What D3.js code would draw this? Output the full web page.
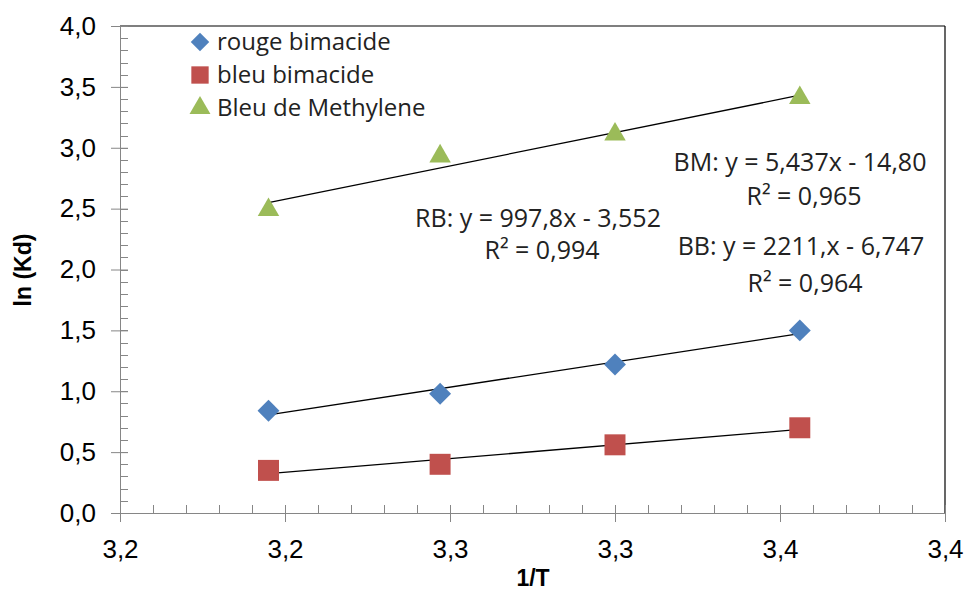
<!DOCTYPE html>
<html>
<head>
<meta charset="utf-8">
<script src="https://cdn.jsdelivr.net/npm/d3@7"></script>
<style>
body { margin: 0; background: #fff; }
svg { display: block; }
</style>
</head>
<body>
<svg id="chart"></svg>
<script>
// 1/T values (x 10^-3)
var invT = [3.195, 3.247, 3.300, 3.356];
var rouge = [0.84, 0.98, 1.22, 1.50];
var bleu = [0.35, 0.40, 0.56, 0.70];
var methylene = [2.49, 2.93, 3.11, 3.41];

var seriesNames = ["rouge bimacide", "bleu bimacide", "Bleu de Methylene"];
var seriesColors = ["#4F81BD", "#C0504D", "#9BBB59"];
var seriesShapes = ["diamond", "square", "triangle"];

var xTicks = [3.15, 3.20, 3.25, 3.30, 3.35, 3.40];
var xTickLabels = ["3,2", "3,2", "3,3", "3,3", "3,4", "3,4"];
var yTicks = [0, 0.5, 1, 1.5, 2, 2.5, 3, 3.5, 4];
var yTickLabels = ["0,0", "0,5", "1,0", "1,5", "2,0", "2,5", "3,0", "3,5", "4,0"];

var equations = [
  ["BM: y = 5,437x - 14,80", "R\u00B2 = 0,965"],
  ["RB: y = 997,8x - 3,552", "R\u00B2 = 0,994"],
  ["BB: y = 2211,x - 6,747", "R\u00B2 = 0,964"]
];

var W = 967, H = 591;
var margin = {left: 120, top: 26, right: 22, bottom: 78};
var width = W - margin.left - margin.right;
var height = H - margin.top - margin.bottom;

var svg = d3.select("#chart").attr("width", W).attr("height", H);
var g = svg.append("g").attr("transform", "translate(" + margin.left + "," + margin.top + ")");

var x = d3.scaleLinear().domain([3.15, 3.40]).range([0, width]);
var y = d3.scaleLinear().domain([0, 4]).range([height, 0]);

var grey = "#868686";
var calibri = "'Open Sans', sans-serif";
var arial = "'Liberation Sans', Arial, sans-serif";

// border top/right
g.append("line").attr("x1", 0).attr("x2", width).attr("y1", 0).attr("y2", 0)
  .attr("stroke", "#000").attr("stroke-width", 1.2);
g.append("line").attr("x1", width).attr("x2", width).attr("y1", 0).attr("y2", height)
  .attr("stroke", "#000").attr("stroke-width", 1.2);

// minor ticks
var yMinor = d3.range(0, 41).map(function(i){ return i / 10; });
g.selectAll(".ymin").data(yMinor).enter().append("line")
  .attr("x1", 0).attr("x2", 8)
  .attr("y1", function(d){ return Math.round(y(d)) + 0.5; })
  .attr("y2", function(d){ return Math.round(y(d)) + 0.5; })
  .attr("stroke", grey);
var xMinor = d3.range(0, 26).map(function(i){ return 3.15 + i / 100; });
g.selectAll(".xmin").data(xMinor).enter().append("line")
  .attr("y1", height - 8).attr("y2", height)
  .attr("x1", function(d){ return Math.round(x(d)) + 0.5; })
  .attr("x2", function(d){ return Math.round(x(d)) + 0.5; })
  .attr("stroke", grey);

// axes
var yAxis = d3.axisLeft(y).tickValues(yTicks)
  .tickFormat(function(d, i){ return yTickLabels[i]; })
  .tickSizeInner(9).tickSizeOuter(0).tickPadding(15);
var yg = g.append("g").call(yAxis);
yg.select(".domain").attr("stroke", grey);
yg.selectAll(".tick line").attr("stroke", grey).attr("x2", 8).attr("x1", -9);
yg.selectAll("text").attr("font-family", arial).attr("font-size", "26px").attr("fill", "#000");

var xAxis = d3.axisBottom(x).tickValues(xTicks)
  .tickFormat(function(d, i){ return xTickLabels[i]; })
  .tickSizeInner(9).tickSizeOuter(0).tickPadding(18);
var xg = g.append("g").attr("transform", "translate(0," + height + ")").call(xAxis);
xg.select(".domain").attr("stroke", grey);
xg.selectAll(".tick line").attr("stroke", grey).attr("y1", -8).attr("y2", 9);
xg.selectAll("text").attr("font-family", arial).attr("font-size", "26px").attr("fill", "#000");

// axis titles
svg.append("text").text("1/T")
  .attr("x", 533).attr("y", 586)
  .attr("text-anchor", "middle")
  .attr("font-family", arial).attr("font-weight", "bold").attr("font-size", "23px");
svg.append("text").text("ln (Kd)")
  .attr("transform", "translate(31,270) rotate(-90)")
  .attr("text-anchor", "middle")
  .attr("font-family", arial).attr("font-weight", "bold").attr("font-size", "23px");

// regression lines
function fit(xs, ys) {
  var mx = d3.mean(xs), my = d3.mean(ys);
  var sxy = d3.sum(xs, function(v, i){ return (v - mx) * (ys[i] - my); });
  var sxx = d3.sum(xs, function(v){ return (v - mx) * (v - mx); });
  var b = sxy / sxx;
  return {b: b, a: my - b * mx};
}

var allSeries = [rouge, bleu, methylene];
var xExt = d3.extent(invT);
allSeries.forEach(function(ys) {
  var f = fit(invT, ys);
  g.append("line")
    .attr("x1", x(xExt[0])).attr("y1", y(f.a + f.b * xExt[0]))
    .attr("x2", x(xExt[1])).attr("y2", y(f.a + f.b * xExt[1]))
    .attr("stroke", "#000").attr("stroke-width", 1.3);
});

var symbols = {
  diamond: d3.symbol().type(d3.symbolSquare).size(240),
  square: d3.symbol().type(d3.symbolSquare).size(440),
  triangle: d3.symbol().type(d3.symbolTriangle).size(200)
};

allSeries.forEach(function(ys, s) {
  g.selectAll(".m" + s).data(ys).enter().append("path")
    .attr("transform", function(d, i){ return "translate(" + x(invT[i]) + "," + y(d) + ")" + (seriesShapes[s] === "diamond" ? " rotate(45)" : ""); })
    .attr("d", symbols[seriesShapes[s]]())
    .attr("fill", seriesColors[s]);
});

// legend
var legend = svg.append("g");
seriesNames.forEach(function(name, i) {
  var ly = 42 + i * 33;
  legend.append("path")
    .attr("transform", "translate(200," + ly + ")" + (seriesShapes[i] === "diamond" ? " rotate(45)" : ""))
    .attr("d", d3.symbol().type(seriesShapes[i] === "triangle" ? d3.symbolTriangle : d3.symbolSquare)
      .size(seriesShapes[i] === "diamond" ? 170 : seriesShapes[i] === "square" ? 300 : 190)())
    .attr("fill", seriesColors[i]);
  legend.append("text").text(name)
    .attr("x", 217).attr("y", ly + 8)
    .attr("font-family", calibri).attr("font-size", "24px").attr("fill", "#222");
});

// equation labels: [x, y of first line, y of second line]
var eqPos = [[800, 171, 205], [538, 227, 259], [801, 255, 292]];
var eqG = svg.append("g");
equations.forEach(function(lines, i) {
  lines.forEach(function(t, j) {
    eqG.append("text").text(t)
      .attr("x", eqPos[i][0] + (j === 0 ? 0 : 4))
      .attr("y", eqPos[i][1 + j])
      .attr("text-anchor", "middle")
      .attr("font-family", calibri).attr("font-size", "25px").attr("fill", "#222");
  });
});
</script>
</body>
</html>
